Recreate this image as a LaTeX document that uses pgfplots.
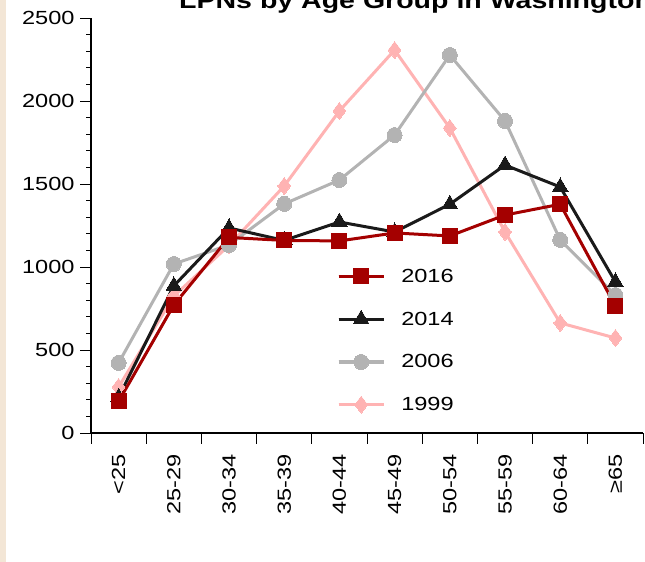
\documentclass[border=0pt]{standalone}
\usepackage{fontspec}
\setmainfont[FakeStretch=1.24]{Liberation Sans}
\usepackage{pgfplots}
\pgfplotsset{compat=1.18}
\definecolor{c16}{HTML}{A40000}
\definecolor{c14}{HTML}{1A1A1A}
\definecolor{c06}{HTML}{B3B3B3}
\definecolor{c99}{HTML}{FFB3B3}
\definecolor{beige}{HTML}{F3E6D6}
\begin{document}
\begin{tikzpicture}[x=1bp,y=1bp]
\useasboundingbox (0,0) rectangle (645,562);
\fill[beige] (0,0) rectangle (6,562);
\node[anchor=base west,font=\fontsize{23bp}{25bp}\selectfont\bfseries,inner sep=0] at (179,553) {LPNs by Age Group in Washington};
\begin{axis}[
  at={(91bp,129bp)}, anchor=south west,
  width=552bp, height=415bp, scale only axis,
  xmin=-0.5, xmax=9.5, ymin=0, ymax=2500,
  axis x line=bottom, axis y line=left,
  axis line style={-, line width=1.2pt, black},
  xtick={-0.5,0.5,1.5,2.5,3.5,4.5,5.5,6.5,7.5,8.5,9.5},
  xticklabels={},
  extra x ticks={0,1,2,3,4,5,6,7,8,9},
  extra x tick labels={<25,25-29,30-34,35-39,40-44,45-49,50-54,55-59,60-64,≥65},
  extra x tick style={major tick length=0pt, tick style={draw=none},
     xticklabel style={rotate=90, anchor=east, xshift=-18bp}},
  ytick={0,500,...,2500},
  minor ytick={100,200,...,2400},
  tick align=outside,
  major tick length=11bp, minor tick length=5bp,
  tick style={black, line width=0.8pt},
  ticklabel style={font=\fontsize{19bp}{21bp}\selectfont},
  /pgf/number format/assume math mode=true,
  /pgf/number format/1000 sep={},
  yticklabel style={xshift=-2bp},
  legend style={draw=none, fill=none, at={(0.44,0.405)}, anchor=north west,
    font=\fontsize{19bp}{21bp}\selectfont, row sep=24bp,
    /tikz/every odd column/.append style={column sep=14bp}},
  legend cell align=left,
  reverse legend,
  legend image post style={line width=3.2bp},
  legend image code/.code={\draw[line width=3.2bp, mark=none] (0bp,0bp) -- (45bp,0bp); \draw[mark repeat=2,mark phase=2] plot coordinates {(0bp,0bp) (22.5bp,0bp) (45bp,0bp)};},
  every axis plot/.append style={line width=3bp},
  clip=false,
]
\addplot[c99, mark=diamond*, mark size=8.5bp, mark options={fill=c99, draw=c99, line width=0pt}] coordinates {
(0,277) (1,825) (2,1130) (3,1488) (4,1940) (5,2307) (6,1837) (7,1211) (8,663) (9,572)};
\addlegendentry{1999}
\addplot[c06, mark=*, mark size=7.5bp, mark options={fill=c06, draw=c06, line width=0pt}] coordinates {
(0,422) (1,1018) (2,1133) (3,1380) (4,1524) (5,1795) (6,2277) (7,1880) (8,1163) (9,831)};
\addlegendentry{2006}
\addplot[c14, mark=triangle*, mark size=9bp, mark options={fill=c14, draw=c14, line width=0pt}] coordinates {
(0,215) (1,886) (2,1235) (3,1160) (4,1271) (5,1211) (6,1378) (7,1614) (8,1482) (9,910)};
\addlegendentry{2014}
\addplot[c16, mark=square*, mark size=7.5bp, mark options={fill=c16, draw=c16, line width=0pt}] coordinates {
(0,190) (1,771) (2,1178) (3,1160) (4,1157) (5,1205) (6,1187) (7,1313) (8,1378) (9,765)};
\addlegendentry{2016}
\end{axis}
\end{tikzpicture}
\end{document}
